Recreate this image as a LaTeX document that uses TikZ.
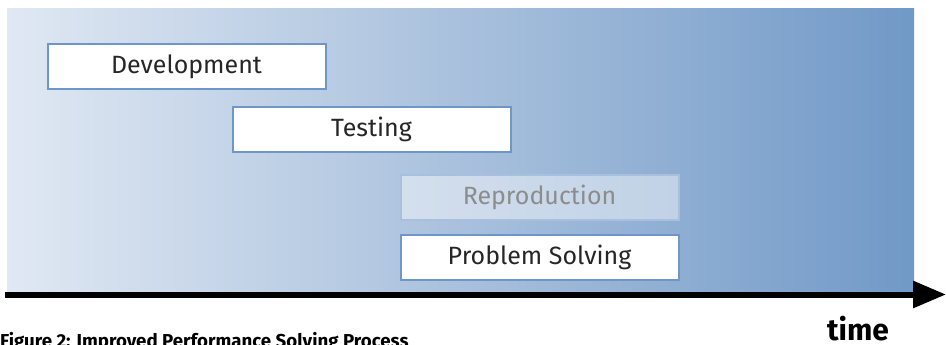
\documentclass[tikz,border=0pt]{standalone}
\usepackage{fontspec}
\setmainfont{Fira Sans}
\usetikzlibrary{positioning,arrows.meta}
\definecolor{bgleft}{RGB}{224,232,243}
\definecolor{bgright}{RGB}{113,153,199}
\definecolor{boxline}{RGB}{110,150,200}
\begin{document}
\begin{tikzpicture}[x=1pt,y=-1pt,
  phase/.style = {draw=boxline, line width=2pt, fill=white, minimum width=278pt,
                  minimum height=45pt, inner sep=0pt, font=\fontsize{25}{30}\selectfont, text=black!85},
  ghost/.style = {phase, draw=boxline!60, fill=white, fill opacity=0.45, text opacity=1, text=black!45}]
  \clip (0,0) rectangle (946,345);
  \shade[left color=bgleft, right color=bgright] (7,9) rectangle (914,293);
  \node[phase] (dev) at (186.5,67) {Development};
  \node[phase] (test) at (371.5,129.5) {Testing};
  \node[ghost] (repro) at (539.5,197.5) {Reproduction};
  \node[phase] (solve) [below=13pt of repro] {Problem Solving};
  % time axis
  \coordinate (t0) at (5,294.5);
  \coordinate (t1) at (946,294.5);
  \draw[line width=6pt, -{Triangle[length=33pt,width=26pt]}] (t0) -- (t1);
  \node[font=\fontsize{30}{34}\selectfont\bfseries, anchor=base, inner sep=0pt] (time) at (858,340) {time};
  \node[font=\fontsize{18.7}{21}\selectfont\bfseries, anchor=base west, inner sep=0pt] (cap) at (0,347)
    {Figure 2: Improved Performance Solving Process};
\end{tikzpicture}
\end{document}
